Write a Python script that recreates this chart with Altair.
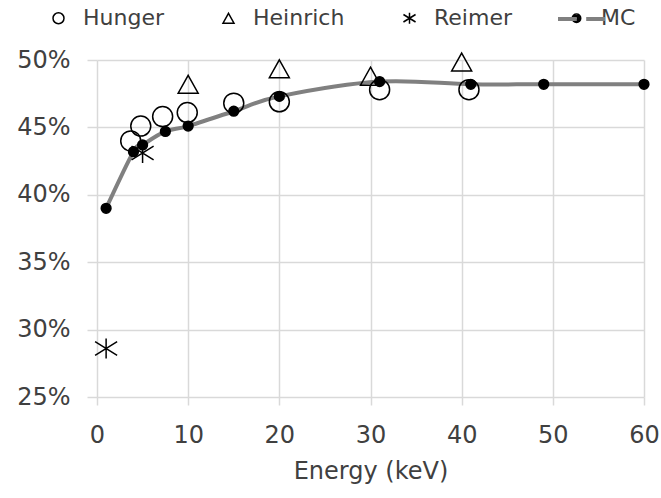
import altair as alt
import pandas as pd

# Backscatter-style ratio vs. primary energy, several data sources plus MC curve
mc_energy = [1, 4, 5, 7.5, 10, 15, 20, 31, 41, 49, 60]
mc_value = [0.390, 0.432, 0.437, 0.447, 0.451, 0.462, 0.473, 0.484, 0.482, 0.482, 0.482]

hunger_energy = [3.7, 4.8, 7.2, 9.9, 15, 20, 31, 40.8]
hunger_value = [0.440, 0.451, 0.458, 0.461, 0.468, 0.469, 0.478, 0.478]

heinrich_energy = [10, 20, 30, 40]
heinrich_value = [0.482, 0.4935, 0.488, 0.4985]

reimer_energy = [1, 5]
reimer_value = [0.286, 0.431]

series_order = ["Hunger", "Heinrich", "Reimer", "MC"]

FONT = "DejaVu Sans"
TEXT = "#404040"
GRID = "#d9d9d9"

# marker outlines in symbol units (legend symbol = 47 px, 1 unit = 23.5 px)
CIRCLE = "M0.234,0 A0.234,0.234 0 1,1 -0.234,0 A0.234,0.234 0 1,1 0.234,0 Z"
TRIANGLE = "M0,-0.21 L0.234,0.21 L-0.234,0.21 Z"
STAR = "M-0.258,-0.16 L0.258,0.16 M-0.258,0.16 L0.258,-0.16 M0,-0.234 L0,0.234"


def rings(radii):
    parts = []
    for r in radii:
        parts.append(f"M{r},0 A{r},{r} 0 1,1 -{r},0 A{r},{r} 0 1,1 {r},0 Z")
    return " ".join(parts)


# solid dot built from nested rings so it reads as filled in the legend too
DOT = rings([0.181, 0.117, 0.053])

frames = []
for name, xs, ys in [
    ("Hunger", hunger_energy, hunger_value),
    ("Heinrich", heinrich_energy, heinrich_value),
    ("Reimer", reimer_energy, reimer_value),
    ("MC", mc_energy, mc_value),
]:
    frames.append(pd.DataFrame({"energy": xs, "value": ys, "series": name}))
points = pd.concat(frames, ignore_index=True)

curve = pd.DataFrame({"energy": mc_energy, "value": mc_value, "key": "MC"})

point_legend = alt.Legend(
    title=None,
    orient="none",
    legendX=-63,
    legendY=-66.5,
    direction="horizontal",
    columns=4,
    symbolSize=2209,
    symbolStrokeWidth=1.5,
    symbolStrokeColor="black",
    symbolFillColor="transparent",
    labelFont=FONT,
    labelFontSize=22,
    labelColor=TEXT,
    labelOffset=0,
    columnPadding=40,
    padding=0,
    labelLimit=0,
)

# grey bar for the MC entry, laid under the MC dot of the point legend
line_legend = alt.Legend(
    title=None,
    orient="none",
    legendX=459,
    legendY=-66.5,
    symbolSize=2209,
    symbolType="M-1,0 L-0.2,0 M0.2,0 L1,0",
    symbolStrokeWidth=4,
    symbolFillColor="transparent",
    labelFont=FONT,
    labelFontSize=22,
    labelColor="transparent",
    labelExpr="''",
    labelOffset=0,
    padding=0,
)

x_enc = alt.X(
    "energy:Q",
    scale=alt.Scale(domain=[0, 60], nice=False),
    axis=alt.Axis(
        values=list(range(0, 61, 10)),
        title="Energy (keV)",
        grid=True,
        gridColor=GRID,
        gridWidth=1.5,
        domain=False,
        tickColor=GRID,
        tickWidth=1.5,
        tickSize=8,
        labelFlush=False,
        labelFont=FONT,
        labelFontSize=24,
        labelColor=TEXT,
        labelPadding=18,
        titleFont=FONT,
        titleFontSize=24,
        titleFontWeight="normal",
        titleColor=TEXT,
        titlePadding=12,
    ),
)

minor_test = "round(datum.value * 1000) % 50 != 0"
y_enc = alt.Y(
    "value:Q",
    scale=alt.Scale(domain=[0.25, 0.50], nice=False),
    axis=alt.Axis(
        values=[0.25, 0.275, 0.30, 0.325, 0.35, 0.375, 0.40, 0.425, 0.45, 0.475, 0.50],
        format=".0%",
        labelExpr="round(datum.value * 1000) % 50 == 0 ? datum.label : ''",
        title=None,
        grid=True,
        gridColor={"condition": {"test": minor_test, "value": "#ececec"}, "value": GRID},
        gridWidth={"condition": {"test": minor_test, "value": 1}, "value": 1.5},
        domain=False,
        tickColor=GRID,
        tickWidth=1.5,
        tickSize=10,
        tickOpacity={"condition": {"test": minor_test, "value": 0}, "value": 1},
        labelFlush=False,
        labelFont=FONT,
        labelFontSize=24,
        labelColor=TEXT,
        labelPadding=17,
    ),
)

line = alt.Chart(curve).mark_line(interpolate="cardinal", strokeWidth=4).encode(
    x=x_enc,
    y=y_enc,
    color=alt.Color(
        "key:N",
        scale=alt.Scale(domain=["MC"], range=["#808080"]),
        legend=line_legend,
    ),
)

marks = (
    alt.Chart(points)
    .transform_calculate(
        msize="datum.series == 'MC' ? 2900 : 7300",
        mfill="datum.series == 'MC' ? 'black' : 'transparent'",
    )
    .mark_point(opacity=1, strokeWidth=1.5, color="black")
    .encode(
        x="energy:Q",
        y="value:Q",
        shape=alt.Shape(
            "series:N",
            scale=alt.Scale(domain=series_order, range=[CIRCLE, TRIANGLE, STAR, DOT]),
            legend=point_legend,
        ),
        fill=alt.Fill("mfill:N", scale=None, legend=None),
        size=alt.Size("msize:Q", scale=None, legend=None),
    )
)

chart = (
    alt.layer(line, marks)
    .resolve_scale(color="independent")
    .properties(
        width=547,
        height=337,
        autosize=alt.AutoSizeParams(type="none"),
        padding={"left": 97, "top": 60, "right": 17, "bottom": 101},
        background="white",
    )
    .configure_view(stroke=None)
)

chart.save("out.html", embed_options={"renderer": "svg", "actions": False})
